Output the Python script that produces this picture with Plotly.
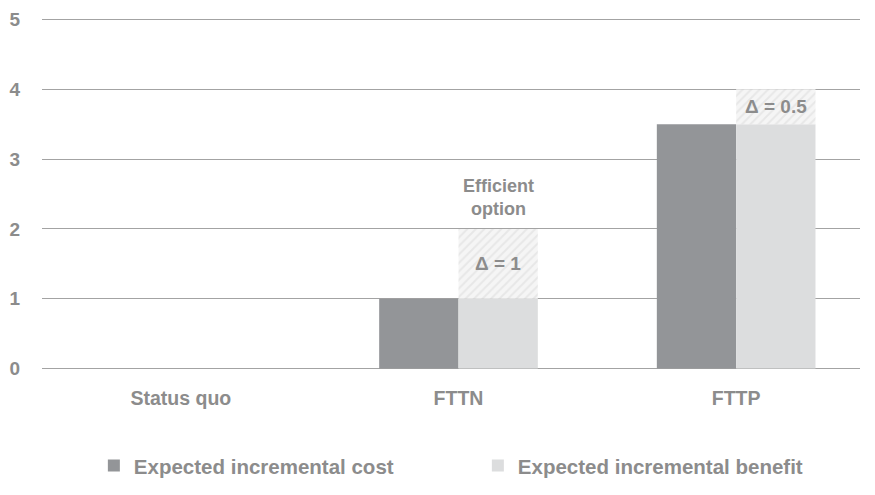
import plotly.graph_objects as go

categories = ["Status quo", "FTTN", "FTTP"]
cost = [0, 1, 3.5]
benefit = [0, 2, 4]
delta_labels = ["", "Δ = 1", "Δ = 0.5"]
y_ticks = [0, 1, 2, 3, 4, 5]

xi = list(range(len(categories)))
base_solid = [min(c, b) for c, b in zip(cost, benefit)]
delta = [b - s for b, s in zip(benefit, base_solid)]

TXT = "#8c8c8c"
FONT = "Liberation Sans, Arial, sans-serif"
W = 0.2857

fig = go.Figure()
fig.add_trace(go.Bar(x=xi, y=cost, width=W, offset=-W, marker=dict(color="#939598", line_width=0),
                     name="Expected incremental cost"))
fig.add_trace(go.Bar(x=xi, y=base_solid, width=W, offset=0, marker=dict(color="#dcddde", line_width=0),
                     name="Expected incremental benefit"))
fig.add_trace(go.Bar(x=xi, y=delta, base=base_solid, width=W, offset=0, showlegend=False,
                     marker=dict(color="#f3f3f3", line_width=0,
                                 pattern=dict(shape="/", fgcolor="#dadada", bgcolor="#f5f5f5",
                                              size=6, solidity=0.35))))

for i, lab in enumerate(delta_labels):
    if lab:
        fig.add_annotation(x=i + W / 2, y=base_solid[i] + delta[i] / 2, text="<b>" + lab + "</b>",
                           showarrow=False, font=dict(size=19, color=TXT, family=FONT))
fig.add_annotation(x=1 + W / 2, y=benefit[1], yshift=8, yanchor="bottom",
                   text="<b>Efficient<br>option</b>", showarrow=False,
                   font=dict(size=18, color=TXT, family=FONT))

fig.update_layout(
    width=875, height=495, barmode="overlay",
    margin=dict(l=35, r=15, t=9.5, b=110.5),
    paper_bgcolor="white", plot_bgcolor="white",
    font=dict(family=FONT, color=TXT, size=19),
    showlegend=True,
    legend=dict(orientation="h", x=0.0634, y=-0.215, xanchor="left", yanchor="top",
                entrywidth=339, entrywidthmode="pixels",
                font=dict(size=20.5, color=TXT, family=FONT, weight="bold")),
    xaxis=dict(range=[-0.5, 2.446], tickvals=xi, ticktext=["<b>" + c + "</b>" for c in categories],
               showgrid=False, zeroline=False, showline=False, ticks="", ticklabelstandoff=14,
               tickfont=dict(size=19.5, color=TXT, family=FONT)),
    yaxis=dict(range=[-0.02, 5.02], tickvals=y_ticks, ticktext=["<b>%d</b>" % v for v in y_ticks],
               showgrid=True, gridcolor="#a3a3a3", gridwidth=1, zeroline=False,
               showline=False, ticks="", ticklabelstandoff=21,
               tickfont=dict(size=19, color=TXT, family=FONT)),
)
fig.write_html("out.html")
